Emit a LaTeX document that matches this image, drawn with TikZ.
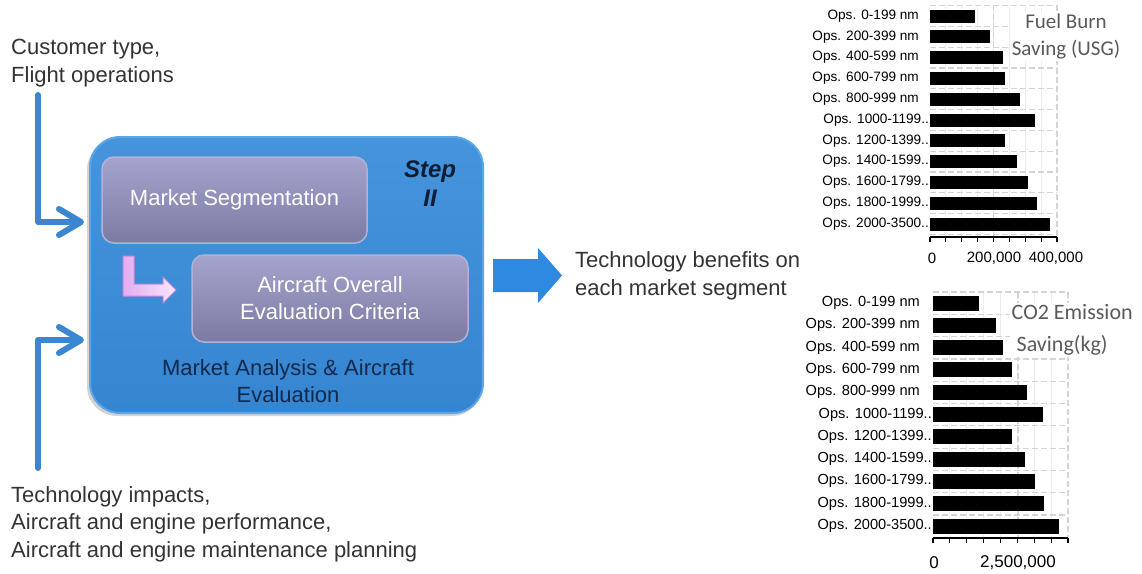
\documentclass[tikz,border=0pt]{standalone}
\usepackage{fontspec}
\setmainfont{Liberation Sans}
\newfontfamily\calibfont{Carlito}
\usetikzlibrary{arrows.meta}
\definecolor{txtgray}{HTML}{333333}
\definecolor{inblue}{HTML}{3A86D0}
\definecolor{bigarrow}{HTML}{2E8AE0}
\definecolor{navy}{HTML}{13294B}
\definecolor{gridgray}{HTML}{D4D4D4}
\definecolor{minorgray}{HTML}{EDEDED}
\definecolor{chartgray}{HTML}{5A5A5A}
\definecolor{innertop}{HTML}{A4A4CE}
\definecolor{innerbot}{HTML}{7A7AA2}
\definecolor{inneredge}{HTML}{B2B2D6}
\definecolor{boxtop}{HTML}{4594DC}
\definecolor{boxbot}{HTML}{3585D1}
\definecolor{boxedge}{HTML}{5AA6E6}
\definecolor{pinkL}{HTML}{E2ADF0}
\definecolor{pinkR}{HTML}{FAE6FC}
\definecolor{pinkedge}{HTML}{C98ADB}
\tikzset{
  plaintext/.style={inner sep=0pt, text=txtgray, align=left, font=\fontsize{22}{27.5}\selectfont},
  innerbox/.style={rounded corners=12pt, top color=innertop, bottom color=innerbot, draw=inneredge, line width=1.5pt,
    text=white, align=center, font=\fontsize{22}{27}\selectfont},
  feed/.style={draw=inblue, line width=6pt, line cap=round, line join=round,
    -{Straight Barb[length=22pt,width=26pt,round]}},
  oplabel/.style={inner sep=0pt, anchor=east, text=black},
  grid1/.style={draw=gridgray, line width=1.2pt, dash pattern=on 6pt off 3pt},
  charttitle/.style={font=\calibfont\fontsize{21}{27}\selectfont, text=chartgray, fill=white, inner sep=1.5pt, align=center}
}
\begin{document}
\begin{tikzpicture}[x=1pt,y=-1pt]
\useasboundingbox (0,0) rectangle (1142,573);

% ---------------- left texts ----------------
\node[plaintext, anchor=west] (cust) at (11,63) {Customer type,\\Flight operations};
\node[plaintext, anchor=west] (tech) at (11,524) {Technology impacts,\\Aircraft and engine performance,\\Aircraft and engine maintenance planning};

% ---------------- main box ----------------
\fill[black!50, opacity=.35, rounded corners=30pt] (87,140) rectangle (482,416);
\node[rounded corners=30pt, top color=boxtop, bottom color=boxbot, draw=boxedge, line width=2pt,
      minimum width=393pt, minimum height=276pt] (main) at (286.5,275) {};
\node[innerbox, minimum width=265pt, minimum height=86pt] (seg) at (234.5,200) {Market Segmentation};
\node[innerbox, minimum width=276pt, minimum height=87pt] (eval) at (330,298.5) {Aircraft Overall\\Evaluation Criteria};
\node[text=navy, align=center, font=\fontsize{22}{27}\selectfont] (malabel) at (288,381) {Market Analysis \& Aircraft\\Evaluation};
\node[text=navy!70!black, align=center, font=\fontsize{24}{29}\selectfont\bfseries\itshape] (step) at (430,184) {Step\\II};

% pink L arrow
\draw[left color=pinkL, right color=pinkR, draw=pinkedge, line width=1pt, line join=miter]
  (123,256) -- (134,256) -- (134,284) -- (163,284) -- (163,277) -- (176,290) -- (163,303) -- (163,296) -- (123,296) -- cycle;

% ---------------- feeding arrows ----------------
\coordinate (c0) at (38,95);
\coordinate (in1) at (84,222);
\coordinate (t0) at (38,468);
\coordinate (in2) at (84,340);
\draw[feed] (c0) |- (in1);
\draw[feed] (t0) |- (in2);

% ---------------- output arrow ----------------
\fill[bigarrow] (493,259) -- (538,259) -- (538,248) -- (562,275.5) -- (538,303) -- (538,292) -- (493,292) -- cycle;
\node[plaintext, anchor=west] (benef) at (575,276) {Technology benefits on\\each market segment};

% ---------------- chart 1 ----------------
\foreach \k in {1,...,7} \draw[minorgray, line width=0.8pt] (930+15.875*\k,5) -- (930+15.875*\k,237);
\foreach \i in {0,...,11} \draw[grid1] (930,5.6+20.8*\i) -- (1057,5.6+20.8*\i);
\foreach \gx in {993.5,1057} \draw[grid1] (\gx,5) -- (\gx,237);
\foreach \lab/\xe/\lx [count=\i from 0] in {
  Ops. 0-199 nm/975/919, Ops. 200-399 nm/990/919, Ops. 400-599 nm/1003/919,
  Ops. 600-799 nm/1005/919, Ops. 800-999 nm/1020/919, Ops. 1000-1199../1035/929,
  Ops. 1200-1399../1005/929, Ops. 1400-1599../1017/929, Ops. 1600-1799../1028/929,
  Ops. 1800-1999../1037/929, Ops. 2000-3500../1050/929}{
  \pgfmathsetmacro{\yy}{16+20.8*\i}
  \fill[black] (930,\yy-6.5) rectangle (\xe,\yy+6.5);
  \node[oplabel, font=\fontsize{13.6}{16}\selectfont] (fa\i) at (\lx,\yy) {\lab};
}
\draw[black, line width=1.5pt] (930,237) -- (1057,237);
\foreach \k in {0,...,8} \draw[black, line width=1.2pt] (930+15.875*\k,237) -- ++(0,5);
\node[font=\fontsize{15}{18}\selectfont] (fx0) at (932,258) {0};
\node[font=\fontsize{15}{18}\selectfont] (fx1) at (994,258) {200,000};
\node[font=\fontsize{15}{18}\selectfont] (fx2) at (1056,258) {400,000};
\node[charttitle] (ftitle) at (1066,37) {Fuel Burn\\Saving (USG)};

% ---------------- chart 2 ----------------
\foreach \k in {1,...,7} \draw[minorgray, line width=0.8pt] (933+16.875*\k,292) -- (933+16.875*\k,538);
\foreach \i in {0,...,11} \draw[grid1] (933,292+22.3*\i) -- (1068,292+22.3*\i);
\foreach \gx in {1018,1068} \draw[grid1] (\gx,292) -- (\gx,538);
\foreach \lab/\xe/\lx [count=\i from 0] in {
  Ops. 0-199 nm/979/920, Ops. 200-399 nm/996/920, Ops. 400-599 nm/1003/920,
  Ops. 600-799 nm/1012/920, Ops. 800-999 nm/1027/920, Ops. 1000-1199../1043/932,
  Ops. 1200-1399../1012/932, Ops. 1400-1599../1025/932, Ops. 1600-1799../1035/932,
  Ops. 1800-1999../1044/932, Ops. 2000-3500../1059/932}{
  \pgfmathsetmacro{\yy}{303+22.3*\i}
  \fill[black] (933,\yy-7.5) rectangle (\xe,\yy+7.5);
  \node[oplabel, font=\fontsize{14.6}{17}\selectfont] (ca\i) at (\lx,\yy) {\lab};
}
\draw[black, line width=1.5pt] (933,538) -- (1068,538);
\foreach \k in {0,...,8} \draw[black, line width=1.2pt] (933+16.875*\k,538) -- ++(0,5);
\node[font=\fontsize{17}{20}\selectfont] (cx0) at (934,563) {0};
\node[font=\fontsize{17}{20}\selectfont] (cx1) at (1018,563) {2,500,000};
\node[charttitle, align=left, anchor=west, font=\calibfont\fontsize{22}{32}\selectfont] (ctitle) at (1010,330) {CO2 Emission\\\hspace*{5pt}Saving(kg)};

\end{tikzpicture}
\end{document}
